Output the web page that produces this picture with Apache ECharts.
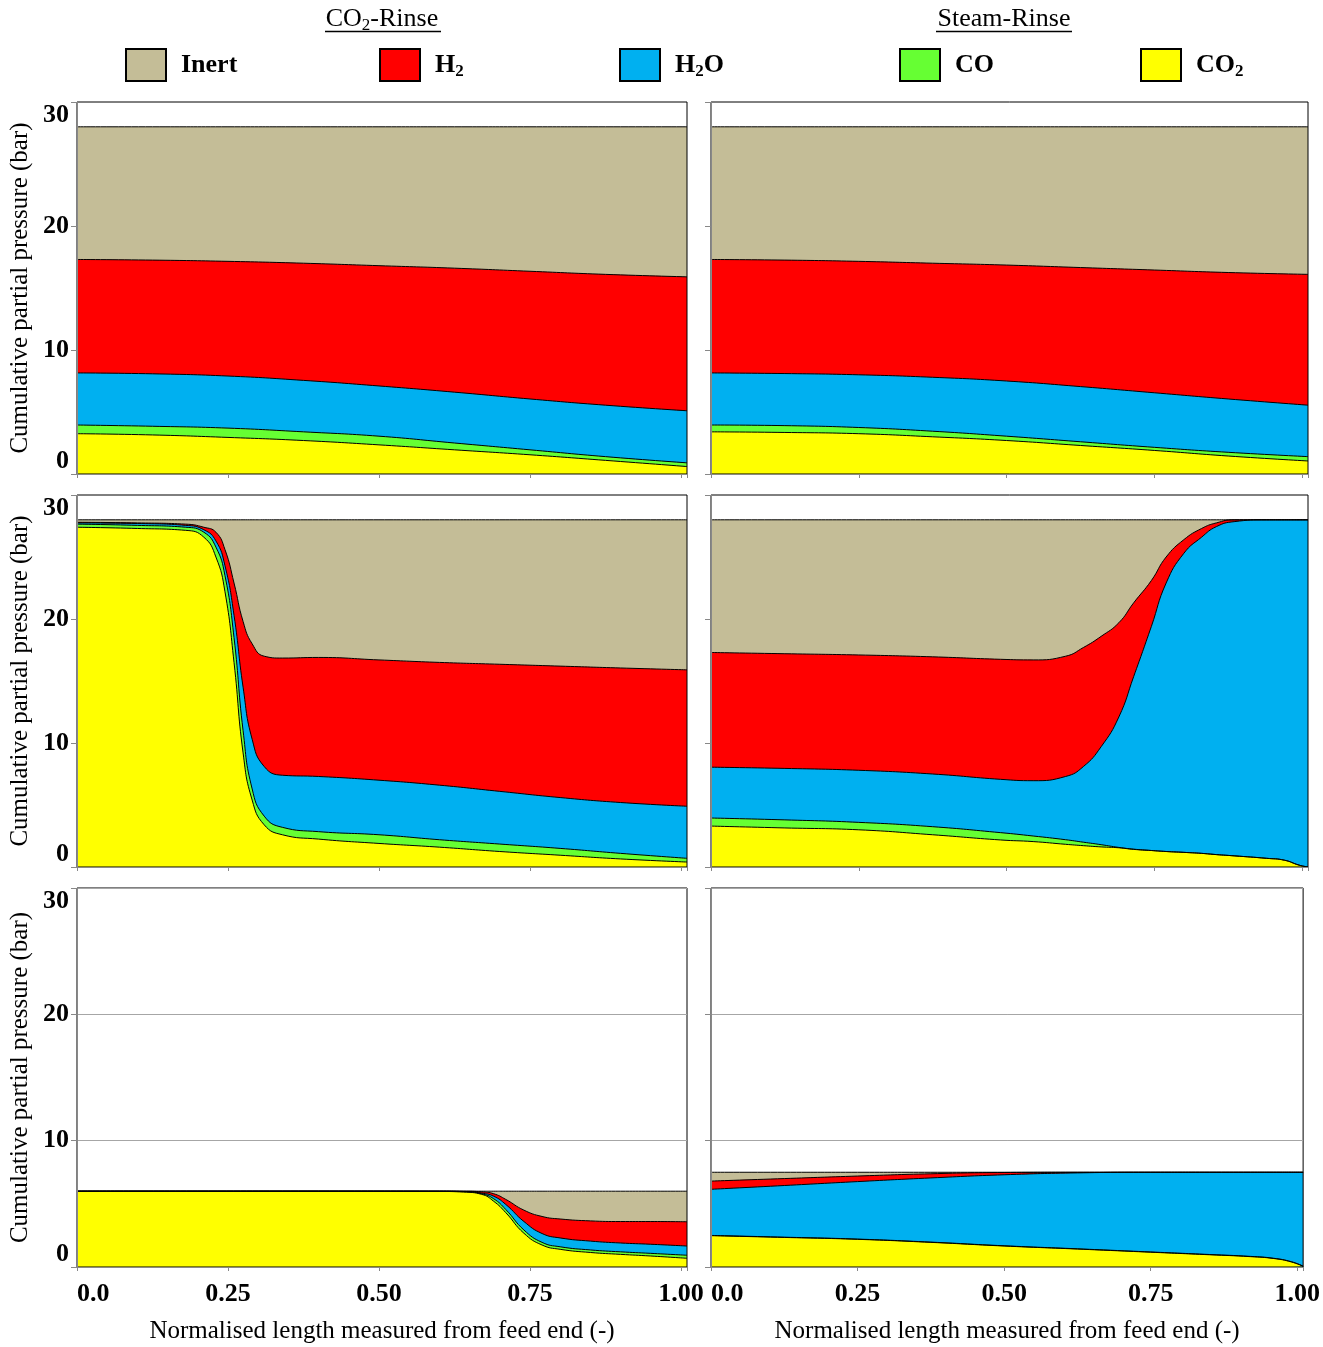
<!DOCTYPE html>
<html>
<head>
<meta charset="utf-8">
<script src="https://cdn.jsdelivr.net/npm/echarts@6/dist/echarts.min.js"></script>
<style>
html,body{margin:0;padding:0;background:#fff;}
#chart{width:1323px;height:1347px;}
</style>
</head>
<body>
<div id="chart"></div>
<script>
const FONT = '"Liberation Serif", "Times New Roman", serif';

// species, bottom of the stack last
const species = ['Inert', 'H2', 'H2O', 'CO', 'CO2'];
const legendLabels = ['Inert', 'H{s|2}', 'H{s|2}O', 'CO', 'CO{s|2}'];
const speciesColors = ['#C4BD97', '#FF0000', '#00B0F0', '#66FF33', '#FFFF00'];
const columnTitles = ['CO{s|2}-Rinse', 'Steam-Rinse'];
const yTicks = [0, 10, 20, 30];

// cumulative partial pressure (top of each band), bar
// row 1
const xRow1 = [0, 0.125, 0.25, 0.375, 0.5, 0.625, 0.75, 0.875, 1.01];
const r1L_inert = [28, 28, 28, 28, 28, 28, 28, 28, 28];
const r1L_h2 = [17.3, 17.25, 17.15, 17.0, 16.8, 16.6, 16.35, 16.1, 15.9];
const r1L_h2o = [8.15, 8.08, 7.9, 7.55, 7.1, 6.6, 6.05, 5.55, 5.1];
const r1L_co = [3.95, 3.85, 3.7, 3.4, 3.05, 2.5, 1.95, 1.4, 0.9];
const r1L_co2 = [3.25, 3.15, 2.95, 2.7, 2.35, 1.95, 1.55, 1.1, 0.6];

const r1R_inert = [28, 28, 28, 28, 28, 28, 28, 28, 28];
const r1R_h2 = [17.3, 17.25, 17.15, 17.0, 16.85, 16.65, 16.45, 16.25, 16.1];
const r1R_h2o = [8.15, 8.1, 8.0, 7.8, 7.5, 7.05, 6.55, 6.05, 5.55];
const r1R_co = [3.95, 3.9, 3.75, 3.45, 3.05, 2.6, 2.15, 1.75, 1.4];
const r1R_co2 = [3.4, 3.35, 3.25, 3.0, 2.7, 2.3, 1.9, 1.45, 1.05];

// row 2
const xRow2L = [0, 0.1, 0.18, 0.21, 0.23, 0.245, 0.26, 0.275, 0.29, 0.31, 0.34, 0.4, 0.5, 0.6, 0.7, 0.8, 0.9, 1.01];
const r2L_inert = [28, 28, 28, 28, 28, 28, 28, 28, 28, 28, 28, 28, 28, 28, 28, 28, 28, 28];
const r2L_h2 = [27.8, 27.75, 27.65, 27.4, 27.0, 25.6, 22.9, 19.8, 18.0, 17.0, 16.85, 16.9, 16.7, 16.5, 16.35, 16.2, 16.05, 15.9];
const r2L_h2o = [27.75, 27.7, 27.55, 27.2, 26.3, 24.3, 20.3, 14.5, 10.3, 8.1, 7.4, 7.3, 7.0, 6.6, 6.1, 5.6, 5.2, 4.9];
const r2L_co = [27.65, 27.55, 27.4, 27.0, 25.8, 23.5, 18.5, 11.0, 6.3, 4.1, 3.2, 2.85, 2.6, 2.2, 1.85, 1.5, 1.1, 0.7];
const r2L_co2 = [27.4, 27.3, 27.15, 26.6, 25.0, 22.2, 16.5, 9.2, 5.4, 3.4, 2.6, 2.25, 1.9, 1.6, 1.25, 0.95, 0.65, 0.4];

const xRow2R = [0, 0.125, 0.25, 0.375, 0.49, 0.545, 0.6, 0.63, 0.66, 0.69, 0.715, 0.745, 0.77, 0.8, 0.83, 0.855, 0.885, 0.94, 0.97, 0.995, 1.01];
const r2R_inert = [28, 28, 28, 28, 28, 28, 28, 28, 28, 28, 28, 28, 28, 28, 28, 28, 28, 28, 28, 28, 28];
const r2R_h2 = [17.3, 17.2, 17.1, 16.95, 16.75, 16.7, 17.0, 17.7, 18.6, 19.7, 21.3, 23.1, 25.0, 26.4, 27.3, 27.75, 28.0, 28, 28, 28, 28];
const r2R_h2o = [8.05, 7.95, 7.8, 7.5, 7.07, 6.96, 7.3, 8.1, 9.7, 12.1, 15.35, 19.4, 22.9, 25.3, 26.6, 27.45, 27.85, 28, 28, 28, 28];
const r2R_co = [3.95, 3.8, 3.6, 3.25, 2.77, 2.5, 2.2, 2.0, 1.8, 1.58, 1.44, 1.33, 1.25, 1.18, 1.1, 1.0, 0.9, 0.7, 0.55, 0.15, 0];
const r2R_co2 = [3.3, 3.15, 3.0, 2.6, 2.18, 2.05, 1.83, 1.72, 1.62, 1.55, 1.42, 1.33, 1.25, 1.18, 1.1, 1.0, 0.9, 0.7, 0.55, 0.15, 0];

// row 3
const xRow3L = [0, 0.2, 0.4, 0.6, 0.64, 0.67, 0.69, 0.71, 0.74, 0.77, 0.8, 0.85, 0.9, 0.95, 1.01];
const r3L_inert = [6, 6, 6, 6, 6, 6, 6, 6, 6, 6, 6, 6, 6, 6, 6];
const r3L_h2 = [6.0, 6.0, 6.0, 6.0, 6.0, 5.95, 5.8, 5.35, 4.5, 4.0, 3.8, 3.65, 3.6, 3.6, 3.58];
const r3L_h2o = [6.0, 6.0, 6.0, 6.0, 5.98, 5.85, 5.6, 4.95, 3.6, 2.65, 2.3, 2.05, 1.9, 1.8, 1.66];
const r3L_co = [6.0, 6.0, 6.0, 6.0, 5.97, 5.8, 5.4, 4.55, 2.93, 1.95, 1.6, 1.35, 1.2, 1.08, 0.93];
const r3L_co2 = [6.0, 6.0, 6.0, 5.98, 5.93, 5.75, 5.2, 4.3, 2.67, 1.74, 1.4, 1.15, 1.0, 0.87, 0.69];

const xRow3R = [0, 0.125, 0.25, 0.375, 0.5, 0.625, 0.75, 0.85, 0.92, 0.96, 0.99, 1.01];
const r3R_inert = [7.5, 7.5, 7.5, 7.5, 7.5, 7.5, 7.5, 7.5, 7.5, 7.5, 7.5, 7.5];
const r3R_h2 = [6.8, 7.0, 7.2, 7.38, 7.48, 7.5, 7.5, 7.5, 7.5, 7.5, 7.5, 7.5];
const r3R_h2o = [6.15, 6.45, 6.76, 7.05, 7.3, 7.45, 7.5, 7.5, 7.5, 7.5, 7.5, 7.5];
const r3R_co = [2.5, 2.36, 2.21, 1.97, 1.68, 1.44, 1.19, 0.99, 0.84, 0.69, 0.42, 0.07];
const r3R_co2 = [2.48, 2.34, 2.19, 1.95, 1.66, 1.42, 1.17, 0.97, 0.82, 0.67, 0.4, 0.05];

const panels = [
    {xs: xRow1, tops: [r1L_inert, r1L_h2, r1L_h2o, r1L_co, r1L_co2]},
    {xs: xRow1, tops: [r1R_inert, r1R_h2, r1R_h2o, r1R_co, r1R_co2]},
    {xs: xRow2L, tops: [r2L_inert, r2L_h2, r2L_h2o, r2L_co, r2L_co2]},
    {xs: xRow2R, tops: [r2R_inert, r2R_h2, r2R_h2o, r2R_co, r2R_co2]},
    {xs: xRow3L, tops: [r3L_inert, r3L_h2, r3L_h2o, r3L_co, r3L_co2]},
    {xs: xRow3R, tops: [r3R_inert, r3R_h2, r3R_h2o, r3R_co, r3R_co2]}
];

const colLeft = [77, 711];
const colWidth = [610, 597];
const rowTop = [102, 495, 888];
const rowHeight = [372, 372, 379];
const legendLeft = [125, 379, 619, 899, 1140];
const titleCenter = [382, 1004];
const titleUnderline = [[325, 441], [936, 1072]];

const chart = echarts.init(document.getElementById('chart'), null, {renderer: 'canvas'});

const grids = [], xAxes = [], yAxes = [], series = [];
panels.forEach((p, i) => {
    const col = i % 2, row = Math.floor(i / 2);
    const isLeft = col === 0, isBottom = row === 2;
    grids.push({
        left: colLeft[col], top: rowTop[row], width: colWidth[col], height: rowHeight[row],
        show: true, borderColor: '#000', borderWidth: 1, z: 3
    });
    xAxes.push({
        type: 'value', gridIndex: i, min: 0, max: 1.01, interval: 0.25, z: 4,
        axisLine: {show: true, lineStyle: {color: '#888', width: 1}},
        axisTick: {show: true, length: 4, lineStyle: {color: '#888'}},
        splitLine: {show: false},
        axisLabel: {
            show: isBottom, margin: 14, color: '#000', fontFamily: FONT, fontSize: 26, fontWeight: 'bold',
            alignMinLabel: 'left',
            formatter: v => v > 1.005 ? '' : (v === 0 ? '0.0' : v.toFixed(2))
        },
        name: isBottom ? 'Normalised length measured from feed end (-)' : '',
        nameLocation: 'middle', nameGap: 52,
        nameTextStyle: {color: '#000', fontFamily: FONT, fontSize: 25}
    });
    yAxes.push({
        type: 'value', gridIndex: i, min: yTicks[0], max: yTicks[yTicks.length - 1], interval: 10, z: 4,
        axisLine: {show: true, lineStyle: {color: '#888', width: 1}},
        axisTick: {show: true, length: 6, lineStyle: {color: '#888'}},
        splitLine: {show: isBottom, lineStyle: {color: '#A6A6A6', width: 1}},
        axisLabel: {
            show: isLeft, margin: 8, color: '#000', fontFamily: FONT, fontSize: 26, fontWeight: 'bold',
            verticalAlignMinLabel: 'bottom', verticalAlignMaxLabel: 'top'
        },
        name: isLeft ? 'Cumulative partial pressure (bar)' : '',
        nameLocation: 'middle', nameGap: 44, nameRotate: 90,
        nameTextStyle: {color: '#000', fontFamily: FONT, fontSize: 25}
    });
    p.tops.forEach((ys, k) => {
        series.push({
            name: species[k], type: 'line', xAxisIndex: i, yAxisIndex: i,
            data: p.xs.map((x, j) => [x, ys[j]]),
            smooth: 0.5, showSymbol: false, symbol: 'none',
            lineStyle: {color: '#000', width: 1},
            itemStyle: {color: speciesColors[k]},
            areaStyle: {color: speciesColors[k], opacity: 1},
            z: 2, silent: true
        });
    });
});

const legends = species.map((name, k) => ({
    left: legendLeft[k], top: 48, padding: 0, selectedMode: false,
    icon: 'rect', itemWidth: 40, itemHeight: 32,
    data: [{name: name, itemStyle: {color: speciesColors[k], borderColor: '#000', borderWidth: 2}}],
    formatter: () => legendLabels[k],
    textStyle: {
        color: '#000', fontFamily: FONT, fontSize: 26, fontWeight: 'bold', padding: [0, 0, 0, 10],
        rich: {s: {fontFamily: FONT, fontSize: 17, fontWeight: 'bold', verticalAlign: 'top', padding: [14, 0, 0, 0]}}
    }
}));

const graphics = [];
columnTitles.forEach((t, c) => {
    graphics.push({
        type: 'text', x: titleCenter[c], y: 19,
        style: {text: t, fill: '#000', fontFamily: FONT, fontSize: 26, align: 'center', verticalAlign: 'middle',
                rich: {s: {fontFamily: FONT, fontSize: 17, fill: '#000', verticalAlign: 'top', padding: [14, 0, 0, 0]}}}
    });
    graphics.push({
        type: 'line', shape: {x1: titleUnderline[c][0], y1: 31.5, x2: titleUnderline[c][1], y2: 31.5},
        style: {stroke: '#000', lineWidth: 1.5}
    });
});

chart.setOption({
    animation: false,
    backgroundColor: '#fff',
    grid: grids,
    xAxis: xAxes,
    yAxis: yAxes,
    legend: legends,
    graphic: graphics,
    series: series
});
</script>
</body>
</html>
